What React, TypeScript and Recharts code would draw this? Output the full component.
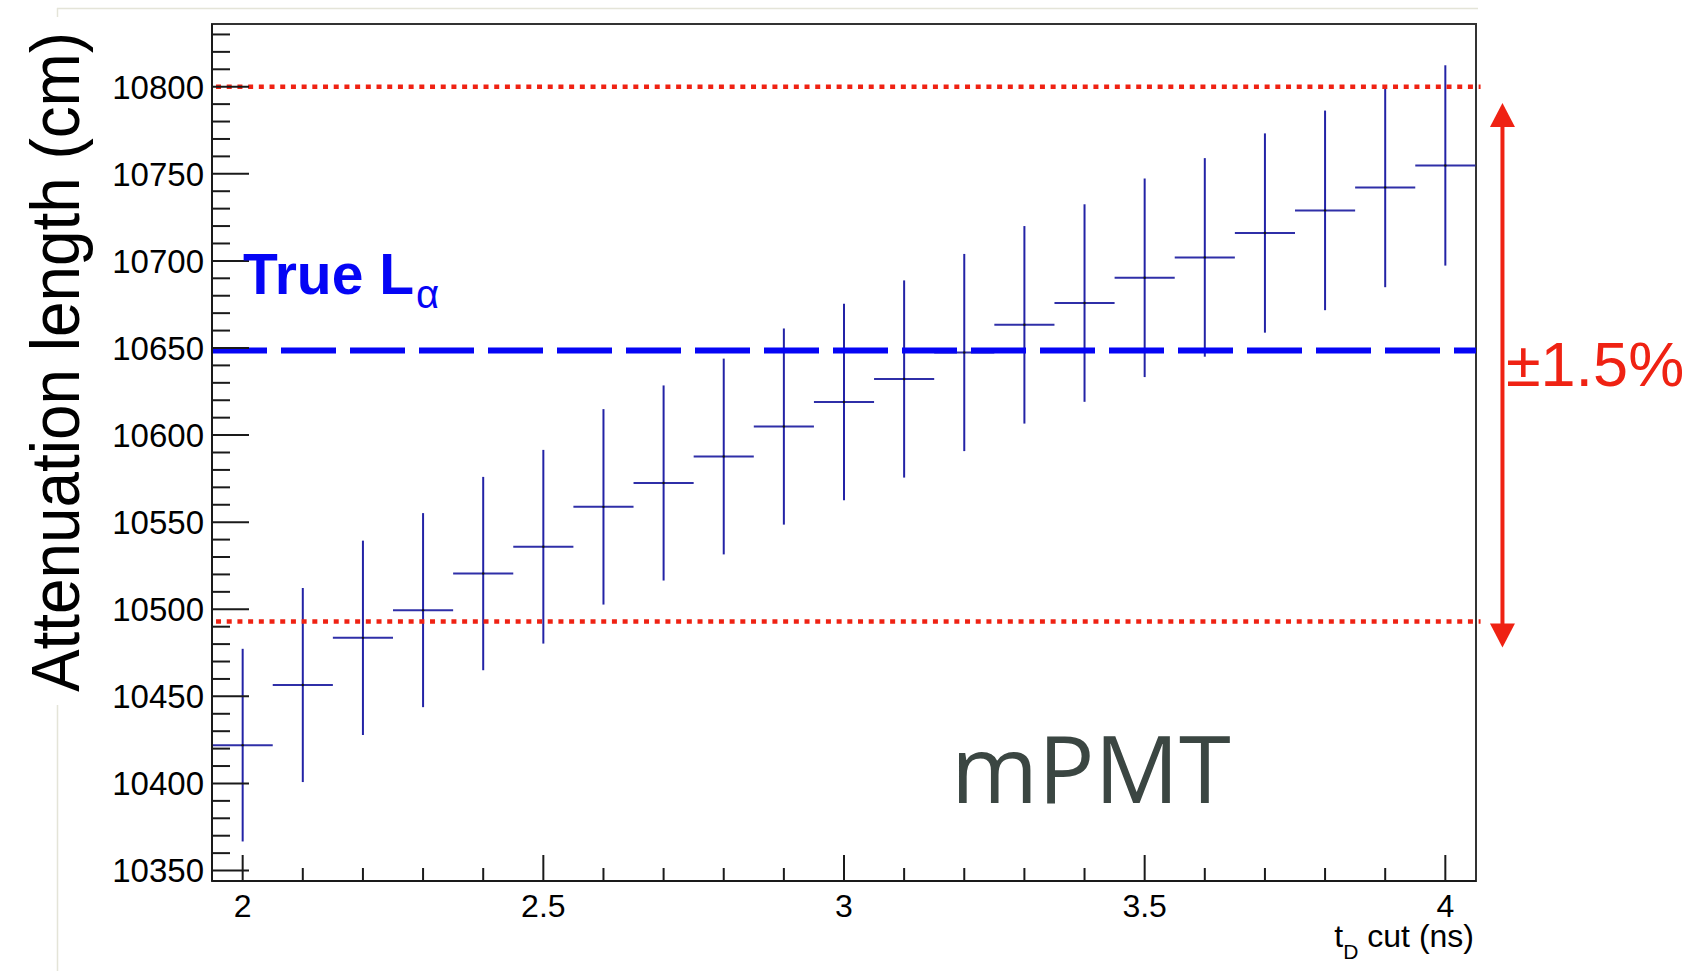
import React from "react";
import {
  ScatterChart,
  Scatter,
  XAxis,
  YAxis,
  ErrorBar,
  ReferenceLine,
  ReferenceArea,
} from "recharts";

const W = 1685;
const H = 971;

// t_D cut (ns)
const tdCut = [
  2.0, 2.1, 2.2, 2.3, 2.4, 2.5, 2.6, 2.7, 2.8, 2.9, 3.0, 3.1, 3.2, 3.3, 3.4,
  3.5, 3.6, 3.7, 3.8, 3.9, 4.0,
];
// fitted attenuation length (cm)
const attLength = [
  10422.0, 10456.5, 10483.6, 10499.5, 10520.5, 10535.9, 10558.8, 10572.5,
  10587.7, 10604.9, 10619.0, 10632.2, 10647.4, 10663.3, 10675.8, 10690.3,
  10702.0, 10716.0, 10729.0, 10742.2, 10754.8,
];
const attError = [
  55.3, 55.7, 55.8, 55.7, 55.5, 55.6, 56.1, 56.0, 56.2, 56.3, 56.4, 56.6, 56.6,
  56.7, 56.7, 57.0, 57.0, 57.2, 57.3, 57.3, 57.5,
];
const BIN_HALF = 0.05;

const X_MIN = 1.949;
const X_MAX = 4.051;
const Y_MIN = 10344;
const Y_MAX = 10836;

const xMajorTicks = [2, 2.5, 3, 3.5, 4];
const yMajorTicks = [
  10350, 10400, 10450, 10500, 10550, 10600, 10650, 10700, 10750, 10800,
];
const yTicks = yMajorTicks
  .flatMap((v) => [v, v + 10, v + 20, v + 30, v + 40])
  .filter((v) => v <= 10830);

const TRUE_L = 10648.5;
const BAND_HIGH = 10800;
const BAND_LOW = 10493;
const BAND_X0 = 1.9557;
const BAND_X1 = 4.0586;
const ARROW_X = 4.095;
const ARROW_TOP = 10790.6;
const ARROW_BOTTOM = 10478;

const points = tdCut.map((x, i) => ({
  x,
  y: attLength[i],
  yErr: attError[i],
  xErr: BIN_HALF,
}));

const AXIS_COLOR = "#1a1a1a";
const RED = "#ef2213";
const tickFont = "'Liberation Sans', Arial, Helvetica, sans-serif";

const isMajorX = (v: number) => xMajorTicks.some((m) => Math.abs(m - v) < 1e-6);

const renderYTick = (props: any) => {
  const { x, y, payload } = props;
  const v = payload.value;
  const major = yMajorTicks.includes(v);
  return (
    <g>
      <line
        x1={x}
        x2={x + (major ? 37 : 18)}
        y1={y}
        y2={y}
        stroke={AXIS_COLOR}
        strokeWidth={2}
      />
      {major && (
        <text
          x={x - 8}
          y={y}
          dy="0.36em"
          textAnchor="end"
          fontSize={33}
          fontFamily={tickFont}
          fill="#000"
        >
          {v}
        </text>
      )}
    </g>
  );
};

const renderXTick = (props: any) => {
  const { x, y, payload } = props;
  const v = payload.value;
  const major = isMajorX(v);
  return (
    <g>
      <line
        x1={x}
        x2={x}
        y1={y}
        y2={y - (major ? 26 : 13)}
        stroke={AXIS_COLOR}
        strokeWidth={2}
      />
      {major && (
        <text
          x={x}
          y={y + 36}
          textAnchor="middle"
          fontSize={32}
          fontFamily={tickFont}
          fill="#000"
        >
          {String(Math.round(v * 10) / 10)}
        </text>
      )}
    </g>
  );
};

const DoubleArrow = (props: any) => {
  const { x1, y1, x2, y2 } = props;
  const top = Math.min(y1, y2);
  const bottom = Math.max(y1, y2);
  const head = 24;
  const half = 12.5;
  return (
    <g>
      <line
        x1={x1}
        x2={x2}
        y1={top + head - 2}
        y2={bottom - head + 2}
        stroke={RED}
        strokeWidth={4}
      />
      <polygon
        points={`${x1},${top} ${x1 - half},${top + head} ${x1 + half},${top + head}`}
        fill={RED}
      />
      <polygon
        points={`${x1},${bottom} ${x1 - half},${bottom - head} ${x1 + half},${bottom - head}`}
        fill={RED}
      />
    </g>
  );
};

const Dot = (p: any) => <circle cx={p.cx} cy={p.cy} r={1.2} fill="#111" />;

export default function App() {
  return (
    <div
      style={{
        position: "absolute",
        left: 0,
        top: 0,
        width: W,
        height: H,
        background: "#fff",
        overflow: "hidden",
      }}
    >
      <ScatterChart
        width={W}
        height={H}
        margin={{ top: 24, right: 209, bottom: 30, left: 62 }}
      >
        <XAxis
          type="number"
          dataKey="x"
          domain={[X_MIN, X_MAX]}
          ticks={tdCut}
          interval={0}
          height={60}
          tickSize={0}
          tickMargin={0}
          tickLine={false}
          tick={renderXTick}
          axisLine={{ stroke: AXIS_COLOR, strokeWidth: 2 }}
          allowDataOverflow
        />
        <YAxis
          type="number"
          dataKey="y"
          domain={[Y_MIN, Y_MAX]}
          ticks={yTicks}
          interval={0}
          width={150}
          tickSize={0}
          tickMargin={0}
          tickLine={false}
          tick={renderYTick}
          axisLine={{ stroke: AXIS_COLOR, strokeWidth: 2 }}
          allowDataOverflow
        />
        <ReferenceArea
          x1={X_MIN}
          x2={X_MAX}
          y1={Y_MIN}
          y2={Y_MAX}
          fill="none"
          stroke="#333"
          strokeWidth={2}
          ifOverflow="visible"
        />
        <Scatter data={points} shape={Dot} isAnimationActive={false}>
          <ErrorBar
            dataKey="yErr"
            direction="y"
            width={0}
            stroke="#2323a6"
            strokeWidth={2}
            isAnimationActive={false}
          />
          <ErrorBar
            dataKey="xErr"
            direction="x"
            width={0}
            stroke="#2f2fa8"
            strokeWidth={2}
            isAnimationActive={false}
          />
        </Scatter>
        <ReferenceLine
          y={TRUE_L}
          stroke="#0505f5"
          strokeWidth={6}
          strokeDasharray="55 14"
          ifOverflow="visible"
        />
        <ReferenceLine
          segment={[
            { x: BAND_X0, y: BAND_HIGH },
            { x: BAND_X1, y: BAND_HIGH },
          ]}
          stroke={RED}
          strokeWidth={4.5}
          strokeDasharray="5 5.7"
          ifOverflow="visible"
        />
        <ReferenceLine
          segment={[
            { x: BAND_X0, y: BAND_LOW },
            { x: BAND_X1, y: BAND_LOW },
          ]}
          stroke={RED}
          strokeWidth={4.5}
          strokeDasharray="5 5.7"
          ifOverflow="visible"
        />
        <ReferenceLine
          segment={[
            { x: ARROW_X, y: ARROW_TOP },
            { x: ARROW_X, y: ARROW_BOTTOM },
          ]}
          ifOverflow="visible"
          shape={DoubleArrow}
        />
      </ScatterChart>

      <svg
        width={W}
        height={H}
        style={{ position: "absolute", left: 0, top: 0, pointerEvents: "none" }}
      >
        {/* slide frame behind the figure */}
        <line x1={57} x2={1478} y1={8.5} y2={8.5} stroke="#e4e4d8" strokeWidth={1.5} />
        <line x1={57.5} x2={57.5} y1={8} y2={17} stroke="#e4e4d8" strokeWidth={1.5} />
        <line x1={57.5} x2={57.5} y1={705} y2={H} stroke="#e4e4d8" strokeWidth={1.5} />

        <text
          transform="translate(79,362) rotate(-90)"
          textAnchor="middle"
          fontSize={68}
          fontFamily={tickFont}
          textLength={660}
          lengthAdjust="spacingAndGlyphs"
          fill="#000"
        >
          Attenuation length (cm)
        </text>

        <text
          x={1474}
          y={946.7}
          textAnchor="end"
          fontSize={32}
          fontFamily={tickFont}
          fill="#000"
        >
          t
          <tspan dy={12} fontSize={21}>
            D
          </tspan>
          <tspan dy={-12}> cut (ns)</tspan>
        </text>

        <text
          x={243}
          y={294}
          fontSize={57}
          fontWeight="bold"
          fontFamily={tickFont}
          fill="#0505f5"
        >
          True L
          <tspan dx={2} dy={14} fontSize={40} fontWeight="normal">
            α
          </tspan>
        </text>

        <text
          x={951}
          y={802.7}
          fontSize={94}
          fontFamily="'Open Sans', 'Noto Sans', sans-serif"
          fill="#3b4642"
        >
          mPMT
        </text>

        <text
          x={1506}
          y={386}
          fontSize={63}
          fontFamily={tickFont}
          fill={RED}
        >
          ±1.5%
        </text>
      </svg>
    </div>
  );
}
